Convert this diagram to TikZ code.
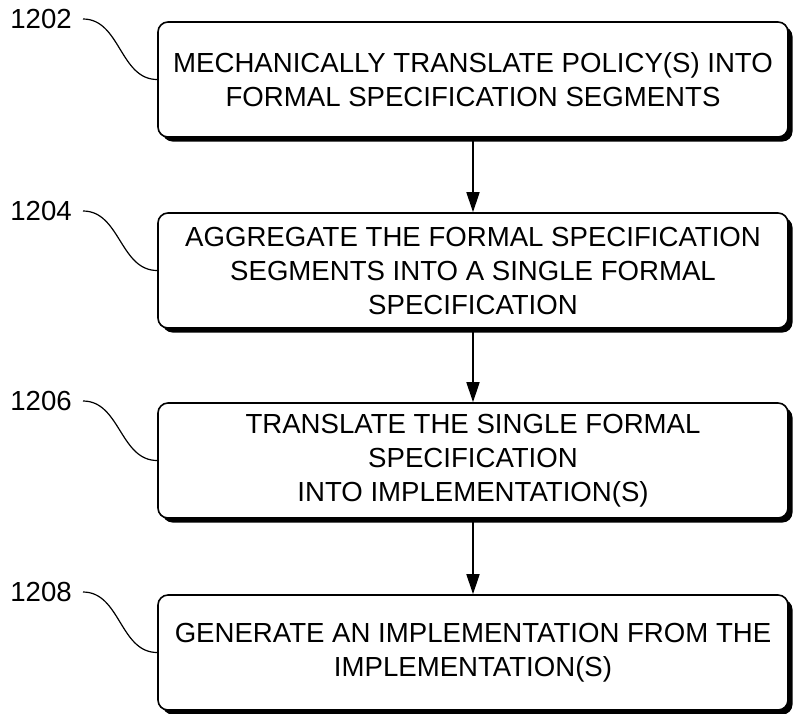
\documentclass[tikz,border=0pt]{standalone}
\usepackage{fontspec}
\setmainfont{Liberation Sans}
\usetikzlibrary{shadows,arrows.meta}

\begin{document}
\begin{tikzpicture}[x=1pt,y=-1pt,
    stepbox/.style={draw, line width=1.6pt, rounded corners=10pt, fill=white,
        minimum width=630pt, minimum height=115pt, align=center,
        font=\fontsize{27.6}{34}\selectfont,
        drop shadow={shadow xshift=4.5pt, shadow yshift=-4.5pt, fill=black, opacity=1}},
    reflabel/.style={font=\fontsize{27.6}{30}\selectfont, anchor=east, inner sep=4pt},
    arr/.style={line width=1.6pt, -{Triangle[length=20pt, width=13pt]}},
    leader/.style={line width=1.2pt}]
    \useasboundingbox (0,0) rectangle (797,713);

    % process steps
    \node[stepbox] (b1) at (473,79.5) {MECHANICALLY TRANSLATE POLICY(S) INTO\\FORMAL SPECIFICATION SEGMENTS};
    \node[stepbox] (b2) at (473,270.5) {AGGREGATE THE FORMAL SPECIFICATION\\SEGMENTS INTO A SINGLE FORMAL\\SPECIFICATION};
    \node[stepbox] (b3) at (473,460.5) {TRANSLATE THE SINGLE FORMAL\\SPECIFICATION\\INTO IMPLEMENTATION(S)};
    \node[stepbox] (b4) at (473,652.5) {GENERATE AN IMPLEMENTATION FROM THE\\IMPLEMENTATION(S)};

    % reference numerals
    \node[reflabel] (l1) at (76,19) {1202};
    \node[reflabel] (l2) at (76,211) {1204};
    \node[reflabel] (l3) at (76,401) {1206};
    \node[reflabel] (l4) at (76,592) {1208};

    % arrows and leader lines
    \foreach \i/\j in {1/2, 2/3, 3/4} {
        \draw[arr] (b\i.south) -- (b\j.north);
    }
    \foreach \i in {1, 2, 3, 4} {
        \draw[leader] ([xshift=7pt]l\i.east) to[out=0, in=180] (b\i.west);
    }
\end{tikzpicture}
\end{document}
